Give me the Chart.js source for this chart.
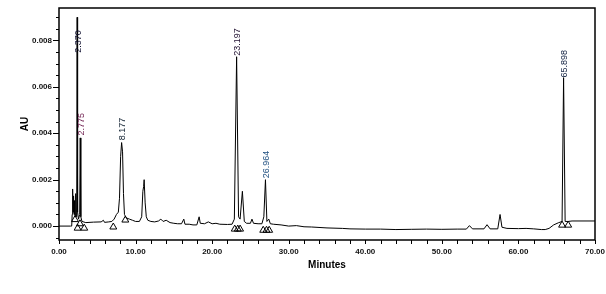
<!DOCTYPE html>
<html>
<head>
<meta charset="utf-8">
<script src="https://cdn.jsdelivr.net/npm/chart.js@4.4.1/dist/chart.umd.min.js"></script>
<style>
  html, body { margin: 0; padding: 0; background: #fff; }
  #wrap { width: 606px; height: 294px; }
</style>
</head>
<body>
<div id="wrap"><canvas id="chrom"></canvas></div>
<script>
// detector trace: minutes / AU
const times = [
  0.00, 1.50, 1.66, 1.72, 1.78, 1.84, 1.90, 1.96, 2.03, 2.10,
  2.18, 2.25, 2.31, 2.37, 2.43, 2.55, 2.70, 2.775, 2.85, 3.00,
  3.50, 4.50, 5.50, 5.80, 5.95, 6.50, 6.90, 7.20, 7.50, 7.75,
  7.90, 8.05, 8.177, 8.30, 8.42, 8.55, 8.80, 9.20, 9.60, 10.00,
  10.50, 10.80, 10.95, 11.05, 11.12, 11.25, 11.40, 11.60, 12.00, 12.50,
  13.00, 13.30, 13.60, 14.00, 14.50, 15.00, 15.50, 16.00, 16.30, 16.45,
  17.00, 17.50, 18.00, 18.30, 18.45, 19.00, 19.50, 20.00, 20.50, 21.00,
  22.00, 22.60, 22.90, 23.197, 23.45, 23.65, 23.95, 24.20, 24.50, 25.00,
  25.20, 25.40, 26.00, 26.50, 26.75, 26.964, 27.15, 27.40, 27.60, 28.00,
  29.00, 30.00, 31.00, 32.00, 33.00, 35.00, 37.00, 38.00, 40.00, 42.00,
  44.00, 46.00, 48.00, 50.00, 52.00, 53.20, 53.60, 54.00, 55.50, 55.90,
  56.30, 57.30, 57.60, 57.85, 58.50, 60.00, 61.00, 62.00, 63.00, 63.50,
  64.00, 64.60, 65.20, 65.70, 65.898, 66.10, 66.50, 67.00, 70.00
];
const absorb = [
  0.00000, 0.00000, 0.00000, 0.00050, 0.00160, 0.00060, 0.00130, 0.00050, 0.00110, 0.00040,
  0.00140, 0.00040, 0.00060, 0.00900, 0.00060, 0.00030, 0.00050, 0.00380, 0.00040, 0.00020,
  0.00015, 0.00017, 0.00018, 0.00025, 0.00016, 0.00018, 0.00020, 0.00030, 0.00050, 0.00060,
  0.00120, 0.00300, 0.00360, 0.00320, 0.00140, 0.00050, 0.00035, 0.00030, 0.00025, 0.00020,
  0.00020, 0.00040, 0.00150, 0.00170, 0.00200, 0.00100, 0.00040, 0.00025, 0.00020, 0.00018,
  0.00022, 0.00030, 0.00020, 0.00025, 0.00015, 0.00012, 0.00010, 0.00010, 0.00030, 0.00008,
  0.00008, 0.00005, 0.00005, 0.00040, 0.00012, 0.00010, 0.00018, 0.00010, 0.00012, 0.00008,
  0.00007, 0.00008, 0.00030, 0.00730, 0.00040, 0.00030, 0.00150, 0.00020, 0.00012, 0.00012,
  0.00030, 0.00012, 0.00010, 0.00010, 0.00040, 0.00200, 0.00020, 0.00030, 0.00010, 0.00008,
  0.00005, 0.00000, 0.00002, -0.00003, -0.00004, -0.00008, -0.00010, -0.00012, -0.00013, -0.00013,
  -0.00015, -0.00014, -0.00013, -0.00014, -0.00013, -0.00013, 0.00002, -0.00012, -0.00012, 0.00006,
  -0.00012, -0.00012, 0.00050, -0.00005, -0.00010, -0.00011, -0.00010, -0.00012, -0.00015, -0.00015,
  -0.00010, 0.00005, 0.00014, 0.00020, 0.00640, 0.00020, 0.00020, 0.00022, 0.00022
];

// peak labels
const peakTimes = [2.370, 2.775, 8.177, 23.197, 26.964, 65.898];
const peakLabels = ['2.370', '2.775', '8.177', '23.197', '26.964', '65.898'];
const labelLevels = [0.00747, 0.0039, 0.0037, 0.00734, 0.00206, 0.0064];
const labelColors = ['#101030', '#702050', '#102030', '#201030', '#205080', '#102040'];

// peak start / end markers
const markTimes = [2.09, 2.43, 2.74, 3.30, 7.09, 8.66, 22.95, 23.35, 23.65, 26.67, 27.10, 27.45, 65.70, 66.50];
const markLevels = [0.00028, -0.00009, 0.00010, -0.00009, -0.00004, 0.00026, -0.00013, -0.00013, -0.00013, -0.00018, -0.00018, -0.00018, 0.00004, 0.00004];

const xTicks = [0, 10, 20, 30, 40, 50, 60, 70];
const yTicks = [0, 0.002, 0.004, 0.006, 0.008];
const xMinorStep = 2;
const yMinorStep = 0.0005;

const tickFont = { family: '"Liberation Sans Narrow", "Liberation Sans", Arial, sans-serif', size: 8, weight: 'bold' };

const framePlugin = {
  id: 'frame',
  afterDatasetsDraw(chart) {
    const { ctx, chartArea: a, scales: { x, y } } = chart;
    ctx.save();
    ctx.strokeStyle = '#000';
    ctx.lineWidth = 1.5;
    ctx.strokeRect(a.left, a.top, a.right - a.left, a.bottom - a.top);

    ctx.lineWidth = 1;
    ctx.beginPath();
    for (let i = -1; i * yMinorStep <= y.max; i++) {
      const py = Math.round(y.getPixelForValue(i * yMinorStep)) + 0.5;
      const len = i % 4 === 0 ? 6 : 3;
      ctx.moveTo(a.left - len, py);
      ctx.lineTo(a.left, py);
    }
    for (let i = 0; i * xMinorStep <= x.max; i++) {
      const px = Math.round(x.getPixelForValue(i * xMinorStep)) + 0.5;
      ctx.moveTo(px, a.bottom);
      ctx.lineTo(px, a.bottom + 4);
    }
    ctx.stroke();

    // rotated retention time labels
    ctx.font = '9px "Liberation Sans", Arial, sans-serif';
    ctx.textAlign = 'left';
    ctx.textBaseline = 'middle';
    peakTimes.forEach((t, i) => {
      ctx.save();
      ctx.translate(x.getPixelForValue(t) + 1, y.getPixelForValue(labelLevels[i]));
      ctx.rotate(-Math.PI / 2);
      ctx.fillStyle = labelColors[i];
      ctx.fillText(peakLabels[i], 0, 0);
      ctx.restore();
    });
    ctx.restore();
  }
};

new Chart(document.getElementById('chrom'), {
  type: 'scatter',
  data: {
    datasets: [
      {
        data: times.map((t, i) => ({ x: t, y: absorb[i] })),
        showLine: true,
        borderColor: '#000',
        borderWidth: 1,
        borderJoinStyle: 'bevel',
        pointRadius: 0,
        tension: 0
      },
      {
        data: markTimes.map((t, i) => ({ x: t, y: markLevels[i] })),
        showLine: false,
        pointStyle: 'triangle',
        pointRadius: 4,
        borderColor: '#000',
        borderWidth: 1,
        backgroundColor: 'rgba(0,0,0,0)'
      }
    ]
  },
  options: {
    responsive: true,
    maintainAspectRatio: false,
    animation: false,
    layout: { padding: { top: 8, right: 11, left: 0, bottom: 0 } },
    plugins: { legend: { display: false }, tooltip: { enabled: false } },
    scales: {
      x: {
        type: 'linear',
        min: 0,
        max: 70,
        afterBuildTicks: s => { s.ticks = xTicks.map(v => ({ value: v })); },
        afterFit: s => { s.height = 54; s.paddingLeft = 0; s.paddingRight = 0; },
        grid: { display: false, drawTicks: false },
        border: { display: false },
        ticks: {
          callback: v => v.toFixed(2),
          font: tickFont,
          color: '#111',
          padding: 7,
          maxRotation: 0,
          autoSkip: false
        },
        title: {
          display: true,
          text: 'Minutes',
          color: '#000',
          font: { family: '"Liberation Sans Narrow", "Liberation Sans", Arial, sans-serif', size: 10, weight: 'bold' },
          padding: { top: 0, bottom: 23 }
        }
      },
      y: {
        min: -0.0006,
        max: 0.0094,
        afterBuildTicks: s => { s.ticks = yTicks.map(v => ({ value: v })); },
        afterFit: s => { s.width = 59; s.paddingTop = 0; s.paddingBottom = 0; },
        grid: { display: false, drawTicks: false },
        border: { display: false },
        ticks: {
          callback: v => v.toFixed(3),
          font: tickFont,
          color: '#111',
          padding: 7
        },
        title: {
          display: true,
          text: 'AU',
          color: '#000',
          font: { family: '"Liberation Sans", Arial, sans-serif', size: 10, weight: 'bold' },
          padding: { top: 19, bottom: 0 }
        }
      }
    }
  },
  plugins: [framePlugin]
});
</script>
</body>
</html>
